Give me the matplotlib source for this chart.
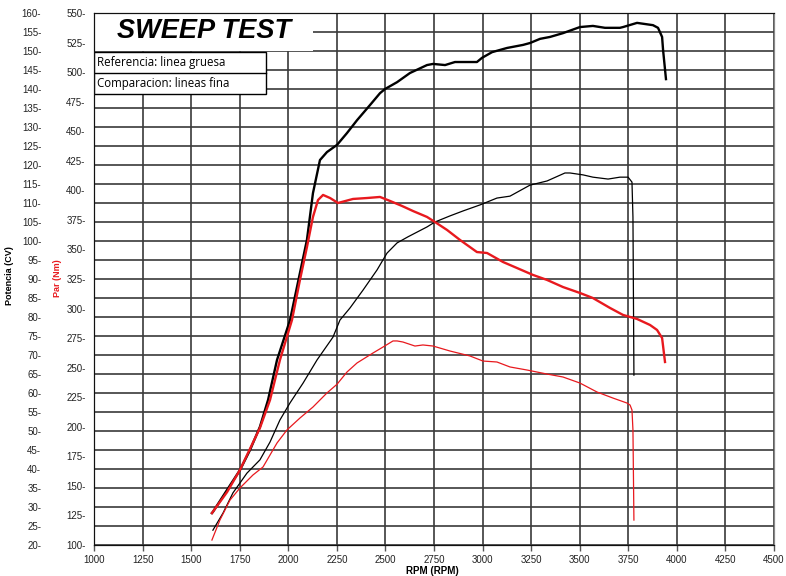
import matplotlib
matplotlib.use('Agg')
import matplotlib.pyplot as plt
from matplotlib.patches import Rectangle

# Potencia referencia (linea gruesa negra)
rpm_pot_ref = [1607, 1612, 1685, 1751, 1803, 1854, 1896, 1942, 2009, 2060, 2096, 2127, 2163,
               2199, 2251, 2302, 2354, 2421, 2472, 2498, 2560, 2626, 2714, 2745, 2807, 2858,
               2971, 2997, 3049, 3126, 3208, 3244, 3296, 3347, 3414, 3501, 3568, 3630, 3707,
               3723, 3795, 3877, 3903, 3924, 3929, 3944]
pot_ref = [28.4, 28.7, 34.5, 39.7, 45.0, 51.1, 58.2, 68.7, 79.2, 91.6, 100.3, 112.6, 121.3,
           123.4, 125.3, 128.4, 131.8, 135.8, 138.9, 140.0, 141.8, 144.2, 146.3, 146.6, 146.3, 147.1,
           147.1, 148.2, 149.7, 150.8, 151.6, 152.1, 153.2, 153.7, 154.7, 156.3, 156.6, 156.1, 156.1,
           156.3, 157.4, 156.8, 156.1, 153.7, 150.3, 142.6]

# Par referencia (linea gruesa roja)
rpm_par_ref = [1607, 1685, 1751, 1854, 1906, 1957, 2019, 2060, 2096, 2127, 2153, 2179, 2215,
               2256, 2333, 2405, 2472, 2524, 2585, 2642, 2714, 2755, 2817, 2884, 2971, 3023,
               3105, 3177, 3260, 3332, 3414, 3501, 3568, 3656, 3723, 3795, 3862, 3898, 3924, 3939]
par_ref = [127.0, 144.8, 163.4, 199.0, 222.7, 256.5, 290.3, 324.2, 352.0, 377.5, 391.8, 396.1, 393.5,
           389.3, 392.7, 393.5, 394.4, 391.0, 386.8, 382.5, 377.5, 373.2, 366.5, 358.0, 347.8, 347.0,
           339.4, 334.3, 328.4, 324.2, 318.2, 313.2, 308.9, 300.5, 294.6, 291.2, 286.1, 281.9, 275.1, 254.8]

# Potencia comparacion (linea fina negra)
rpm_pot_cmp = [1612, 1664, 1715, 1787, 1854, 1906, 1957, 2009, 2076, 2148, 2230, 2266, 2318,
               2385, 2457, 2508, 2560, 2616, 2714, 2755, 2832, 2899, 2987, 3074, 3141, 3244,
               3332, 3424, 3450, 3517, 3568, 3646, 3707, 3749, 3769, 3774, 3779]
pot_cmp = [23.9, 28.4, 33.7, 38.9, 42.4, 47.1, 52.9, 57.4, 62.6, 68.7, 74.7, 79.2, 82.4,
           87.1, 92.4, 96.8, 99.5, 101.1, 103.7, 105.0, 106.6, 107.9, 109.5, 111.3, 111.8, 114.7,
           115.8, 117.9, 117.9, 117.4, 116.8, 116.3, 116.8, 116.8, 115.5, 106.3, 64.7]

# Par comparacion (linea fina roja)
rpm_par_cmp = [1607, 1648, 1700, 1751, 1818, 1870, 1942, 1993, 2060, 2127, 2199, 2251, 2302,
               2354, 2436, 2488, 2539, 2560, 2590, 2652, 2693, 2745, 2832, 2935, 3002, 3074,
               3141, 3229, 3332, 3414, 3501, 3589, 3671, 3743, 3759, 3769, 3774, 3779]
par_cmp = [104.2, 121.1, 138.0, 148.2, 159.2, 166.0, 186.3, 197.3, 207.4, 216.7, 228.6, 236.0, 246.3,
           254.0, 262.4, 267.5, 272.6, 272.6, 271.7, 268.3, 269.2, 268.3, 264.1, 259.9, 255.6, 254.8,
           250.6, 248.0, 244.6, 242.1, 237.0, 229.4, 224.3, 220.1, 218.4, 214.2, 197.3, 121.1]

rpm_ticks = list(range(1000, 4501, 250))
pot_ticks = list(range(20, 161, 5))
par_ticks = list(range(100, 551, 25))

red = '#e8191e'
grid_col = '#3a3a3a'

fig = plt.figure(figsize=(7.86, 5.76), dpi=100)
ax = fig.add_axes([94 / 786, 31 / 576, 680 / 786, 532 / 576])
ax2 = ax.twinx()

ax.set_xlim(1000, 4500)
ax.set_ylim(20, 160)
ax2.set_ylim(100, 550)

ax.set_xticks(rpm_ticks)
ax.set_xticklabels([str(v) for v in rpm_ticks], fontsize=7, family='Liberation Sans', color='#222222')
ax.tick_params(axis='x', length=4, width=1, pad=3, color='#555555')

ax.set_yticks(pot_ticks)
ax.set_yticklabels(['%d-' % v for v in pot_ticks], fontsize=7, family='Liberation Sans', color='#222222')
ax.tick_params(axis='y', length=0, pad=38)

ax2.yaxis.tick_left()
ax2.set_yticks(par_ticks)
ax2.set_yticklabels(['%d-' % v for v in par_ticks], fontsize=7, family='Liberation Sans', color='#222222')
ax2.tick_params(axis='y', length=0, pad=6)

ax.grid(True, color=grid_col, linewidth=1.2)
ax.set_axisbelow(True)
for sp in ['left', 'bottom', 'top']:
    ax.spines[sp].set_color('#111111')
    ax2.spines[sp].set_color('#111111')
ax.spines['right'].set_color('#888888')
ax2.spines['right'].set_color('#888888')

# cajas del titulo y leyenda
ax.add_patch(Rectangle((0, 0.929), 0.322, 0.071, transform=ax.transAxes,
                       facecolor='white', edgecolor='none', zorder=2))
ax.add_patch(Rectangle((0, 0.848), 0.253, 0.079, transform=ax.transAxes,
                       facecolor='white', edgecolor='black', linewidth=1, zorder=3))
ax.plot([0, 0.253], [0.887, 0.887], transform=ax.transAxes, color='black', linewidth=1, zorder=4)
ax.text(0.162, 0.966, 'SWEEP TEST', transform=ax.transAxes, ha='center', va='center',
        fontsize=19.5, fontweight='bold', fontstyle='italic', family='Liberation Sans', zorder=5)
ax.text(0.005, 0.907, 'Referencia: linea gruesa', transform=ax.transAxes, ha='left', va='center',
        fontsize=8.3, family='Open Sans', zorder=5)
ax.text(0.005, 0.867, 'Comparacion: lineas fina', transform=ax.transAxes, ha='left', va='center',
        fontsize=8.3, family='Open Sans', zorder=5)

ax.plot(rpm_pot_cmp, pot_cmp, color='black', linewidth=0.9, zorder=6)
ax2.plot(rpm_par_cmp, par_cmp, color=red, linewidth=0.9, zorder=6)
ax2.plot(rpm_par_ref, par_ref, color=red, linewidth=1.7, zorder=7)
ax.plot(rpm_pot_ref, pot_ref, color='black', linewidth=1.7, zorder=7)

fig.text(10 / 786, 1 - 276 / 576, 'Potencia (CV)', rotation=90, ha='center', va='center',
         fontsize=6.5, fontweight='bold', family='Liberation Sans')
fig.text(57 / 786, 1 - 278 / 576, 'Par (Nm)', rotation=90, ha='center', va='center',
         fontsize=6.5, fontweight='bold', family='Liberation Sans', color=red)
fig.text(432 / 786, 1 - 571 / 576, 'RPM (RPM)', ha='center', va='center',
         fontsize=7, fontweight='bold', family='Liberation Sans')

fig.savefig('out.png', dpi=100)
